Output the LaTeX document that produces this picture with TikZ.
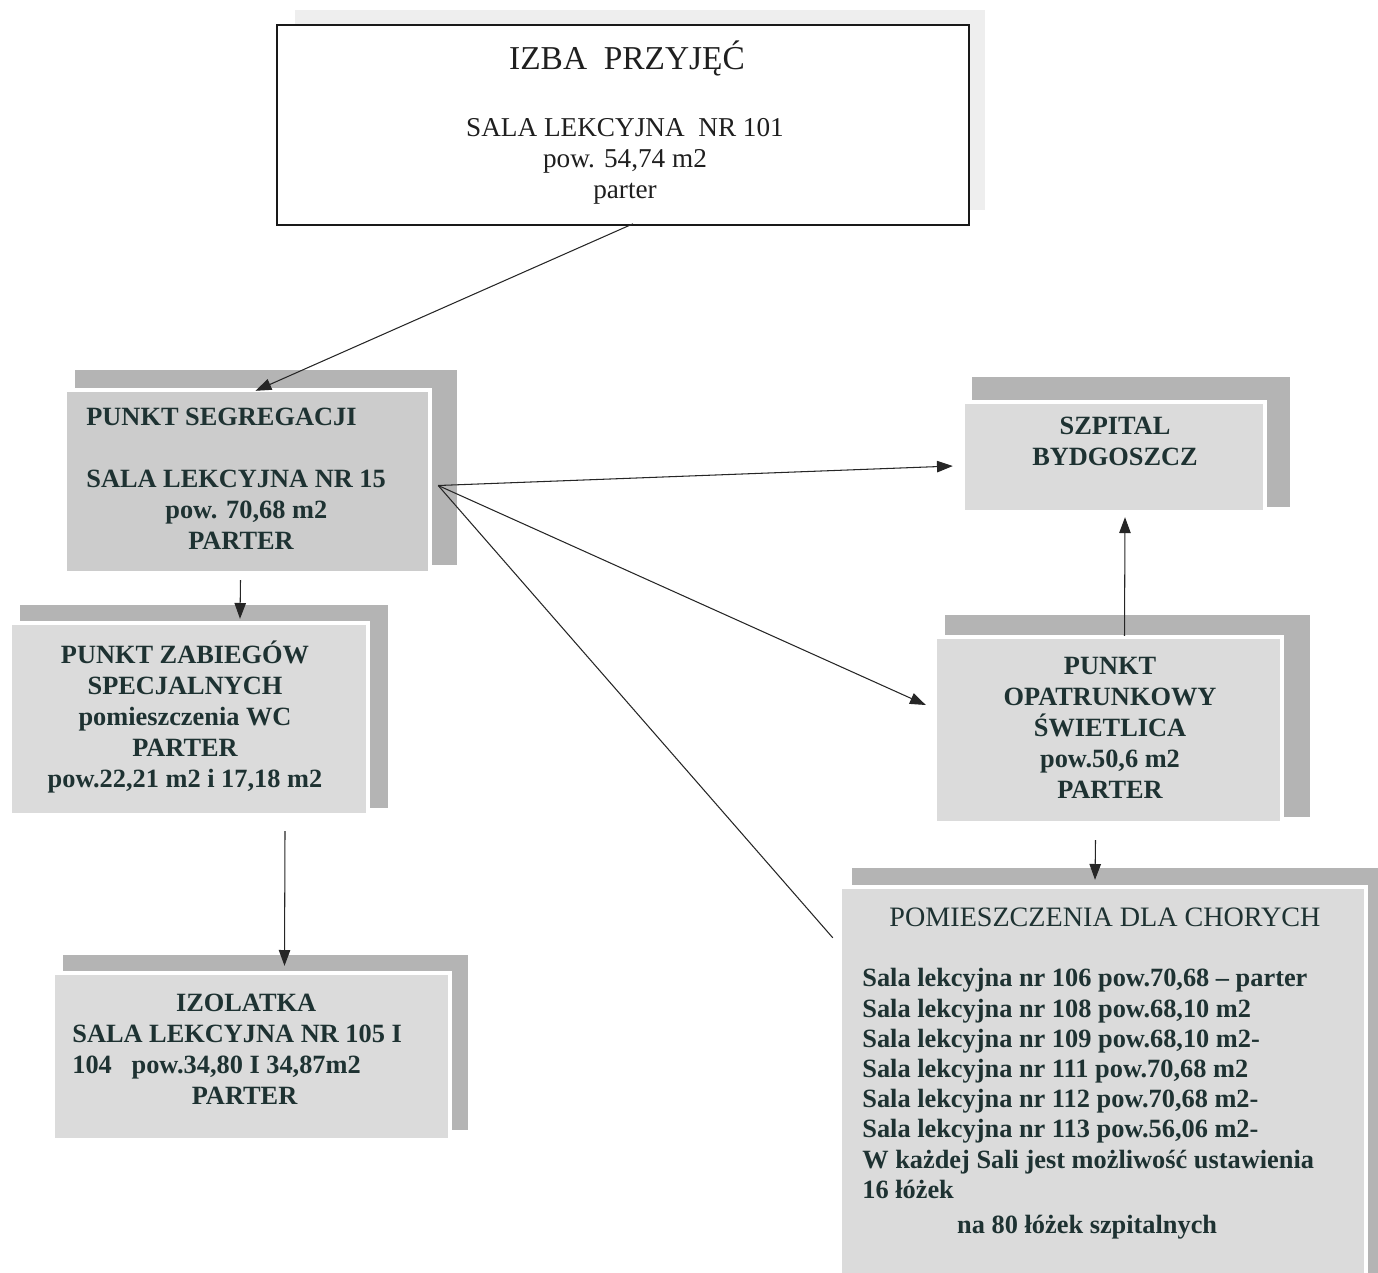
\documentclass[tikz,border=0pt]{standalone}
\usepackage{fontspec}
\setmainfont{Liberation Serif}
\usetikzlibrary{fit,arrows.meta,calc}
\definecolor{txtdark}{RGB}{30,50,50}
\definecolor{frontgray}{RGB}{219,219,219}
\definecolor{seggray}{RGB}{204,204,204}
\definecolor{backgray}{RGB}{180,180,180}
\definecolor{faintgray}{RGB}{238,238,238}
\begin{document}
\begin{tikzpicture}[x=0.02cm,y=-0.02cm,
  frontbox/.style={fill=frontgray,draw=white,line width=2.5pt,inner sep=0pt},
  backbox/.style={fill=backgray},
  boldtxt/.style={font=\fontsize{15}{17.6}\selectfont\bfseries,text=txtdark,inner sep=0pt},
  plaintxt/.style={font=\fontsize{15.5}{17.6}\selectfont,text=black!88,inner sep=0pt},
  arr/.style={-{Triangle[length=9pt,width=6.5pt]},line width=0.6pt,draw=black!85},
  ln/.style={line width=0.6pt,draw=black!85}]
\useasboundingbox (0,0) rectangle (1378,1272);

% top box
\fill[faintgray] (295,10) rectangle (985,210);
\node[draw=black!90,line width=0.9pt,fill=white,inner sep=0pt,fit={(277,25) (969,225)}] (izba) {};
\node[font=\fontsize{19}{22}\selectfont,text=black!88,inner sep=0pt] (izbat) at (627,58) {IZBA\ \ PRZYJĘĆ};
\node[plaintxt,align=center] (izbad) at (625,161) {SALA LEKCYJNA\ \ NR 101\\pow. 54,74 m2\\parter};

% punkt segregacji
\fill[backbox] (75,370) rectangle (457,565);
\node[frontbox,fill=seggray,fit={(65,390) (430,573)}] (seg) {};
\node[boldtxt,align=left,anchor=west] (segt) at (86,479) {PUNKT SEGREGACJI\\[17.6pt]SALA LEKCYJNA NR 15\\\hspace*{45pt}pow. 70,68 m2\\\hspace*{58pt}PARTER};

% szpital
\fill[backbox] (972,377) rectangle (1290,507);
\node[frontbox,fit={(963,402) (1265,512)}] (szp) {};
\node[boldtxt,align=center] (szpt) at (1115,441) {SZPITAL\\BYDGOSZCZ};

% punkt zabiegow
\fill[backbox] (20,605) rectangle (388,808);
\node[frontbox,fit={(10,623) (368,815)}] (zab) {};
\node[boldtxt,align=center] (zabt) at (185,717) {PUNKT ZABIEGÓW\\SPECJALNYCH\\pomieszczenia WC\\PARTER\\pow.22,21 m2 i 17,18 m2};

% izolatka
\fill[backbox] (63,955) rectangle (468,1130);
\node[frontbox,fit={(53,973) (450,1140)}] (izo) {};
\node[boldtxt,align=left,anchor=west] (izot) at (72,1049) {\hspace*{59pt}IZOLATKA\\SALA LEKCYJNA NR 105 I\\104\ \ \ pow.34,80 I 34,87m2\\\hspace*{68pt}PARTER};

% punkt opatrunkowy
\fill[backbox] (945,615) rectangle (1310,817);
\node[frontbox,fit={(935,637) (1282,823)}] (opa) {};
\node[boldtxt,align=center] (opat) at (1110,728) {PUNKT\\OPATRUNKOWY\\ŚWIETLICA\\pow.50,6 m2\\PARTER};

% pomieszczenia
\fill[backbox] (852,868) rectangle (1385,1290);
\node[frontbox,fit={(840,887) (1366,1290)}] (pom) {};
\node[font=\fontsize{16}{18}\selectfont,text=txtdark,inner sep=0pt] (pomt) at (1105,917) {POMIESZCZENIA DLA CHORYCH};
\node[boldtxt,font=\fontsize{15}{17.2}\selectfont\bfseries,align=left,anchor=west] (poml) at (862,1104) {Sala lekcyjna nr 106 pow.70,68 – parter\\Sala lekcyjna nr 108 pow.68,10 m2\\Sala lekcyjna nr 109 pow.68,10 m2-\\Sala lekcyjna nr 111 pow.70,68 m2\\Sala lekcyjna nr 112 pow.70,68 m2-\\Sala lekcyjna nr 113 pow.56,06 m2-\\W każdej Sali jest możliwość ustawienia\\16 łóżek\\[3pt]\hspace*{54pt}na 80 łóżek szpitalnych};

% connectors
\coordinate (segout) at ($(seg.east)+(6,4)$);
\coordinate (pomin) at ($(pom.north west)+(-5,53)$);
\draw[arr] ($(izba.south)+(10,-2)$) -- ($(seg.north)+(8,3)$);
\draw[arr] (segout) -- ($(szp.west)+(-8,9)$);
\draw[arr] (segout) -- ($(opa.west)+(-7,-25)$);
\draw[ln] (segout) -- (pomin);
\draw[arr] ($(seg.south)+(-7,5)$) -- ($(zab.north)+(51,-2)$);
\draw[arr] ($(zab.south)+(96,14)$) -- ($(izo.north)+(33,-5)$);
\draw[arr] ($(opa.north)+(16,1)$) -- ($(szp.south)+(11,3)$);
\draw[arr] ($(opa.south)+(-13,15)$) -- ($(pom.north)+(-8,-5)$);
\end{tikzpicture}
\end{document}
